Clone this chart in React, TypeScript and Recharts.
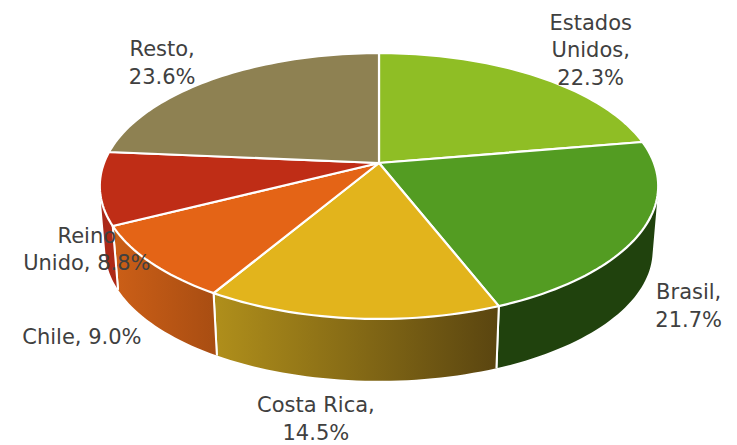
import React from "react";
import { PieChart, Pie, Cell } from "recharts";

const names = ["Estados Unidos", "Brasil", "Costa Rica", "Chile", "Reino Unido", "Resto"];
const shares = [22.3, 21.7, 14.5, 9.0, 8.8, 23.6];
const labelLines = [
  ["Estados", "Unidos,", "22.3%"],
  ["Brasil,", "21.7%"],
  ["Costa Rica,", "14.5%"],
  ["Chile, 9.0%"],
  ["Reino", "Unido, 8.8%"],
  ["Resto,", "23.6%"],
];
const topFills = ["#8fbe25", "#539c22", "#e2b41c", "#e46416", "#bf2d16", "#8e8152"];
const wallFills = ["#6b8f1c", "url(#wallBrasil)", "url(#wallCosta)", "url(#wallChile)", "url(#wallReino)", "#6a6240"];

const data = names.map((name, i) => ({ name, value: shares[i], index: i }));

// Perspective projection of the pie disc
const SQUASH = 0.469;
const PERSPECTIVE = 0.173;
const DEPTH = 65;
const BOTTOM_SCALE = 0.98;
const labelNudges = [
  [55, -26],
  [48, 73],
  [-36, 100],
  [-69, 74],
  [-13, 61],
  [-52, -16],
];

function project(cx: number, cy: number, r: number, deg: number, scale = 1, drop = 0) {
  const t = (deg * Math.PI) / 180;
  const u = Math.cos(t);
  const v = -Math.sin(t);
  const den = 1 - PERSPECTIVE * v;
  return { x: cx + (scale * r * u) / den, y: cy + drop + (scale * r * SQUASH * v) / den };
}

function steps(a0: number, a1: number) {
  const n = Math.max(2, Math.ceil(Math.abs(a1 - a0) / 1.5));
  const out: number[] = [];
  for (let i = 0; i <= n; i++) out.push(a0 + ((a1 - a0) * i) / n);
  return out;
}

const fmt = (p: { x: number; y: number }) => `${p.x.toFixed(2)} ${p.y.toFixed(2)}`;

const TopSlice = (p: any) => {
  const pts = steps(p.startAngle, p.endAngle).map((a) => fmt(project(p.cx, p.cy, p.outerRadius, a)));
  return (
    <path
      d={`M${p.cx} ${p.cy} L${pts.join(" L")} Z`}
      fill={p.fill}
      stroke="#ffffff"
      strokeWidth={2.2}
      strokeLinejoin="round"
    />
  );
};

const WallSlice = (p: any) => {
  const angles = steps(p.startAngle, p.endAngle);
  const top = angles.map((a) => project(p.cx, p.cy, p.outerRadius, a));
  const bottom = angles.map((a) => project(p.cx, p.cy, p.outerRadius, a, BOTTOM_SCALE, DEPTH));
  // The wall is swept quad by quad so its silhouette runs from the top rim to the bottom rim.
  const quads: string[] = [];
  for (let i = 0; i < angles.length - 1; i++) {
    let q = [top[i], top[i + 1], bottom[i + 1], bottom[i]];
    let area = 0;
    q.forEach((c, j) => {
      const n = q[(j + 1) % 4];
      area += c.x * n.y - n.x * c.y;
    });
    if (area < 0) q = q.slice().reverse();
    quads.push(`M${q.map(fmt).join(" L")} Z`);
  }
  const last = angles.length - 1;
  const seams = `M${fmt(top[0])} L${fmt(bottom[0])} M${fmt(top[last])} L${fmt(bottom[last])}`;
  return (
    <g>
      <path d={quads.join(" ")} fill={p.fill} stroke="none" fillRule="nonzero" />
      <path d={seams} fill="none" stroke="#ffffff" strokeWidth={2} />
    </g>
  );
};

const renderLabel = (p: any) => {
  const i = p.index;
  const base = project(p.cx, p.cy, p.outerRadius, p.midAngle);
  const lines = labelLines[i];
  const x = base.x + labelNudges[i][0];
  const lh = 27.5;
  const y = base.y + labelNudges[i][1] - ((lines.length - 1) * lh) / 2 + 7.5;
  return (
    <text
      key={i}
      x={x}
      y={y}
      textAnchor="middle"
      fill="#404040"
      fontFamily="'DejaVu Sans', sans-serif"
      fontSize={21}
    >
      {lines.map((l, j) => (
        <tspan key={j} x={x} y={y + j * lh}>
          {l}
        </tspan>
      ))}
    </text>
  );
};

export default function App() {
  return (
    <div style={{ position: "absolute", left: 0, top: 0, width: 737, height: 445, background: "#fff" }}>
      <PieChart width={737} height={445} margin={{ top: 0, right: 0, bottom: 0, left: 0 }}>
        <defs>
          <linearGradient id="wallBrasil" x1="0" y1="0" x2="1" y2="0">
            <stop offset="0%" stopColor="#20420d" />
            <stop offset="100%" stopColor="#20420d" />
          </linearGradient>
          <linearGradient id="wallCosta" x1="0" y1="0" x2="1" y2="0">
            <stop offset="0%" stopColor="#b08f1b" />
            <stop offset="100%" stopColor="#5a4510" />
          </linearGradient>
          <linearGradient id="wallChile" x1="0" y1="0" x2="1" y2="0">
            <stop offset="0%" stopColor="#cc5f17" />
            <stop offset="100%" stopColor="#a84d12" />
          </linearGradient>
          <linearGradient id="wallReino" x1="0" y1="0" x2="1" y2="0">
            <stop offset="0%" stopColor="#a8281a" />
            <stop offset="100%" stopColor="#b02a16" />
          </linearGradient>
        </defs>
        <Pie
          data={data}
          dataKey="value"
          nameKey="name"
          cx={379}
          cy={163}
          outerRadius={275}
          startAngle={90}
          endAngle={-270}
          stroke="none"
          shape={WallSlice}
          label={false}
          labelLine={false}
          isAnimationActive={false}
        >
          {data.map((d, i) => (
            <Cell key={d.name} fill={wallFills[i]} />
          ))}
        </Pie>
        <Pie
          data={data}
          dataKey="value"
          nameKey="name"
          cx={379}
          cy={163}
          outerRadius={275}
          startAngle={90}
          endAngle={-270}
          stroke="none"
          shape={TopSlice}
          label={renderLabel}
          labelLine={false}
          isAnimationActive={false}
        >
          {data.map((d, i) => (
            <Cell key={d.name} fill={topFills[i]} />
          ))}
        </Pie>
      </PieChart>
    </div>
  );
}
